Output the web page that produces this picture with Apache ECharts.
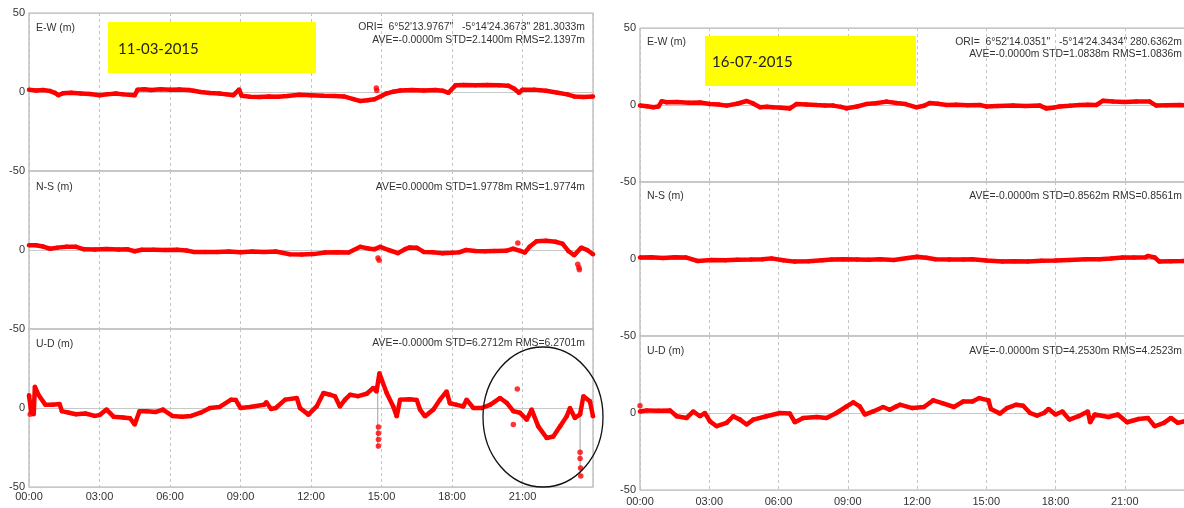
<!DOCTYPE html>
<html><head><meta charset="utf-8">
<script src="https://cdn.jsdelivr.net/npm/echarts@6/dist/echarts.min.js"></script>
<style>html,body{margin:0;padding:0;background:#fff}#c{width:1184px;height:508px}</style>
</head><body><div id="c"></div><script>
// Time in hours since 00:00, offsets in metres.
const HOUR_TICKS = [0, 3, 6, 9, 12, 15, 18, 21, 24];
const COMPONENTS = ['E-W (m)', 'N-S (m)', 'U-D (m)'];
const DATES = ['11-03-2015', '16-07-2015'];

const ORI_1 = 'ORI=  6\u00b052\'13.9767"   -5\u00b014\'24.3673" 281.3033m';
const ORI_2 = 'ORI=  6\u00b052\'14.0351"   -5\u00b014\'24.3434" 280.6362m';
const STATS_1 = ['AVE=-0.0000m STD=2.1400m RMS=2.1397m', 'AVE=0.0000m STD=1.9778m RMS=1.9774m', 'AVE=-0.0000m STD=6.2712m RMS=6.2701m'];
const STATS_2 = ['AVE=-0.0000m STD=1.0838m RMS=1.0836m', 'AVE=-0.0000m STD=0.8562m RMS=0.8561m', 'AVE=-0.0000m STD=4.2530m RMS=4.2523m'];

// Day 1 (11-03-2015)
const EW_1 = [[0,1.5],[0.3,1.0],[0.6,1.2],[0.9,0.6],[1.1,-0.5],[1.25,-2.0],[1.45,-0.8],[1.8,-0.5],[2.2,-0.9],[2.6,-1.3],[3.0,-2.0],[3.3,-1.5],[3.7,-1.0],[4.0,-1.5],[4.5,-2.0],[4.62,1.5],[4.9,1.8],[5.2,1.3],[5.6,1.7],[6.0,1.5],[6.4,1.6],[6.8,1.2],[7.0,0.8],[7.3,0.0],[7.7,-0.6],[8.1,-1.0],[8.4,-1.5],[8.7,-2.0],[8.94,1.6],[9.05,-2.4],[9.4,-3.0],[9.8,-3.2],[10.2,-2.8],[10.6,-3.0],[11.0,-2.6],[11.5,-1.8],[12.0,-2.0],[12.5,-2.3],[13.0,-2.5],[13.4,-2.8],[13.8,-4.5],[14.1,-5.7],[14.4,-5.2],[14.7,-4.6],[15.0,-2.5],[15.2,-1.0],[15.5,0.2],[15.8,1.0],[16.3,1.3],[16.8,1.0],[17.3,1.2],[17.6,0.8],[17.85,-0.5],[18.15,4.2],[18.5,4.5],[19.0,4.2],[19.5,4.5],[20.0,4.3],[20.4,4.0],[20.65,2.0],[20.85,-0.5],[21.0,1.5],[21.5,1.5],[22.0,0.8],[22.5,-0.5],[22.9,-1.5],[23.2,-2.8],[23.6,-3.2],[24,-2.8]];
const EW_1_OUT = [[14.78,2.5],[14.8,1.0]];
const NS_1 = [[0,3.0],[0.3,3.0],[0.6,2.2],[0.9,0.8],[1.2,1.5],[1.6,2.0],[2.0,2.0],[2.35,0.4],[2.8,0.3],[3.3,0.6],[3.8,0.3],[4.2,0.4],[4.5,-0.8],[4.8,0.2],[5.3,0.2],[5.8,0.0],[6.3,0.2],[6.7,-0.3],[7.0,-1.2],[7.5,-1.3],[8.0,-1.2],[8.5,-1.0],[9.0,-1.4],[9.5,-1.0],[10.0,-1.3],[10.5,-1.0],[11.1,-2.7],[11.6,-2.8],[12.1,-2.6],[12.6,-1.6],[13.1,-1.4],[13.6,-1.6],[14.1,2.0],[14.5,0.8],[14.7,0.5],[14.95,2.0],[15.3,0.0],[15.7,-2.0],[16.0,0.5],[16.2,1.6],[16.5,1.4],[16.8,-1.2],[17.2,-1.5],[17.6,-2.0],[18.0,-1.8],[18.3,-1.5],[18.6,0.0],[19.0,-0.6],[19.4,-0.8],[19.8,-0.6],[20.3,-0.5],[20.6,0.8],[20.9,-0.5],[21.1,-1.6],[21.3,2.0],[21.6,5.5],[22.0,5.8],[22.4,5.2],[22.7,4.0],[22.95,-0.6],[23.2,-3.3],[23.5,1.5],[23.75,0.0],[24,-2.7]];
const NS_1_OUT = [[14.85,-5.0],[14.9,-6.5],[20.8,4.5],[23.35,-9],[23.4,-11],[23.42,-12.5]];
const UD_1 = [[0,8.0],[0.1,-3.0],[0.2,-4.0],[0.25,13.5],[0.4,8.4],[0.7,2.0],[1.0,2.0],[1.3,2.5],[1.4,-2.0],[1.7,-3.0],[2.0,-4.0],[2.4,-3.5],[2.8,-5.0],[3.0,-4.5],[3.3,-1.0],[3.6,-5.5],[4.0,-6.0],[4.3,-6.5],[4.5,-10.5],[4.7,-2.0],[5.0,-2.0],[5.4,-2.5],[5.7,-1.0],[6.1,-5.0],[6.5,-5.5],[6.9,-5.0],[7.3,-3.0],[7.7,0.0],[8.1,0.6],[8.6,5.3],[8.8,5.0],[9.0,0.0],[9.4,0.6],[10.0,2.0],[10.1,3.6],[10.3,-0.6],[10.5,0.0],[10.9,5.3],[11.4,6.3],[11.53,0.0],[11.89,-4.2],[12.24,1.0],[12.53,9.5],[12.81,8.4],[13.02,7.4],[13.23,1.0],[13.45,5.3],[13.66,8.4],[14.0,7.5],[14.37,9.0],[14.65,12.7],[14.79,10.5],[14.91,22.0],[15.22,9.5],[15.5,1.0],[15.65,-5.3],[15.79,5.3],[16.2,5.5],[16.5,5.0],[16.64,-1.0],[16.85,-5.3],[17.21,-1.0],[17.49,5.3],[17.77,10.5],[17.91,3.0],[18.2,2.0],[18.48,1.0],[18.62,5.3],[18.91,0.0],[19.26,0.0],[19.62,2.0],[20.04,6.3],[20.33,3.2],[20.61,-2.0],[20.89,-3.0],[21.18,-7.4],[21.39,-1.0],[21.67,-11.6],[22.03,-19.0],[22.31,-18.0],[22.6,-11.6],[22.88,-5.3],[23.02,0.0],[23.23,-6.3],[23.45,-4.0],[23.59,7.4],[23.87,4.2],[24,-5.3]];
const UD_1_OUT = [[0.05,-4],[14.87,-12],[14.87,-16],[14.87,-20],[14.87,-24],[20.61,-10.5],[20.78,12],[23.45,-28],[23.45,-32],[23.47,-38],[23.48,-43]];
// vertical links between separated epochs: [hour, from, to]
const UD_1_LINKS = [[14.84, 12, -26], [23.45, -5, -43]];

// Day 2 (16-07-2015)
const EW_2 = [[0,-0.4],[0.3,-0.8],[0.58,-1.5],[0.8,-1.0],[0.94,2.5],[1.15,1.8],[1.6,2.0],[2.1,1.5],[2.6,1.6],[3.03,0.6],[3.4,0.3],[3.75,-0.4],[4.2,0.8],[4.62,2.6],[4.9,1.0],[5.2,-1.4],[5.5,-1.2],[5.77,-1.5],[6.1,-1.8],[6.49,-2.2],[6.78,0.6],[7.2,0.4],[7.65,0.0],[8.0,-0.3],[8.37,-0.4],[8.7,-1.2],[8.95,-2.2],[9.4,-1.0],[9.8,0.6],[10.2,1.2],[10.68,2.2],[11.11,1.3],[11.5,0.6],[11.98,-1.5],[12.3,-0.5],[12.55,1.3],[12.9,0.8],[13.28,0.0],[13.7,0.2],[14.2,-0.2],[14.72,0.0],[15.0,-0.9],[15.5,-0.6],[16.16,-0.4],[16.7,-0.6],[17.32,-0.4],[17.6,-2.2],[17.9,-1.8],[18.18,-0.9],[18.6,-0.5],[19.05,0.0],[19.4,0.2],[19.77,0.0],[20.06,2.8],[20.49,2.2],[21.0,2.0],[21.5,2.3],[22.08,2.2],[22.37,-0.4],[22.8,-0.2],[23.38,0.0],[23.7,-0.3],[24,0.0]];
const NS_2 = [[0,1.0],[0.5,1.2],[1.0,0.6],[1.5,1.2],[1.98,1.0],[2.5,-1.3],[3.1,-0.6],[3.7,-0.8],[4.2,-0.5],[4.8,-0.4],[5.3,-0.2],[5.7,0.4],[6.2,-0.8],[6.7,-1.7],[7.3,-1.5],[7.9,-0.8],[8.3,-0.4],[8.8,-0.2],[9.4,-0.3],[9.9,-0.5],[10.4,-0.2],[11.0,-0.6],[11.6,0.6],[12.0,1.5],[12.4,0.8],[12.8,-0.2],[13.4,-0.3],[14.0,-0.4],[14.4,-0.2],[15.0,-0.9],[15.7,-1.7],[16.2,-1.4],[16.8,-1.7],[17.4,-1.2],[18.0,-1.0],[18.6,-0.6],[19.3,-0.2],[19.9,-0.1],[20.4,0.4],[20.9,1.0],[21.4,1.0],[21.9,1.2],[22.0,2.0],[22.3,1.0],[22.5,-1.7],[23.0,-1.4],[23.5,-1.3],[24,-1.0]];
const UD_2 = [[0,1.0],[0.29,1.7],[0.8,1.5],[1.3,1.7],[1.59,-2.1],[2.02,-3.2],[2.31,1.0],[2.6,-2.1],[2.81,0.0],[3.03,-5.4],[3.32,-8.6],[3.75,-6.4],[4.04,-2.1],[4.33,-4.3],[4.62,-7.5],[4.91,-4.3],[5.48,-2.1],[6.06,0.0],[6.49,-0.4],[6.71,-6.0],[7.07,-3.2],[7.65,-2.6],[8.08,-3.2],[8.51,0.0],[8.95,4.3],[9.24,6.9],[9.52,4.3],[9.74,-1.0],[10.1,1.0],[10.53,3.9],[10.82,2.1],[11.11,4.3],[11.26,5.4],[11.8,3.2],[12.3,3.9],[12.7,8.2],[13.1,6.4],[13.6,3.9],[14.0,7.5],[14.4,7.5],[14.7,9.7],[15.1,8.2],[15.2,2.6],[15.6,-0.4],[15.9,3.2],[16.3,5.4],[16.6,4.7],[16.9,0.0],[17.2,-1.7],[17.5,0.0],[17.7,2.6],[18.0,-1.0],[18.3,1.0],[18.6,-4.3],[19.0,-2.1],[19.4,1.0],[19.5,-6.0],[19.7,-1.0],[20.3,-2.6],[20.7,-1.0],[21.1,-6.0],[21.6,-3.9],[22.0,-3.2],[22.3,-8.6],[22.7,-6.4],[23.0,-3.2],[23.3,-6.4],[23.7,-5.0],[24,-4.5]];
const UD_2_OUT = [[0,4.7]];

const RED = '#ff0000';
const FONT = '"Liberation Sans", Arial, sans-serif';

// panel placement: [left, width, top, subplot height]
const PANELS = [
  { left: 29, width: 564, top: 13, h: 158 },
  { left: 640, width: 554, top: 28, h: 154 }
];

const grids = [], xAxes = [], yAxes = [], series = [];
const lines = [[EW_1, NS_1, UD_1], [EW_2, NS_2, UD_2]];
const outs = [[EW_1_OUT, NS_1_OUT, UD_1_OUT], [[], [], UD_2_OUT]];

PANELS.forEach((p, pi) => {
  for (let k = 0; k < 3; k++) {
    const idx = pi * 3 + k;
    const bottom = k === 2;
    grids.push({ left: p.left, width: p.width, top: p.top + k * p.h, height: p.h,
      show: true, borderColor: '#b4b4b4', borderWidth: 1.2,
      containLabel: false, outerBoundsMode: 'none' });
    xAxes.push({
      type: 'value', gridIndex: idx, min: 0, max: 24, interval: 3,
      axisLine: { show: false }, axisTick: { show: false },
      splitLine: { show: true, lineStyle: { color: '#c4c4c4', type: [3, 3], width: 1 } },
      axisLabel: { show: bottom, margin: pi === 0 ? 4 : 6, color: '#333', fontSize: 11, fontFamily: FONT,
        formatter: v => v === 24 ? '' : String(v).padStart(2, '0') + ':00' }
    });
    yAxes.push({
      type: 'value', gridIndex: idx, min: -50, max: 50, interval: 50,
      axisLine: { show: false }, axisTick: { show: false },
      splitLine: { show: true, lineStyle: { color: '#c8c8c8', width: 1 } },
      axisLabel: { margin: 4, color: '#333', fontSize: 11, fontFamily: FONT,
        showMinLabel: true, showMaxLabel: true,
        formatter: v => (k > 0 && v === 50) ? '' : String(v) }
    });
    series.push({
      type: 'line', xAxisIndex: idx, yAxisIndex: idx, data: lines[pi][k],
      showSymbol: true, symbol: 'circle', symbolSize: 4.5, itemStyle: { color: RED },
      lineStyle: { color: RED, width: 4.5 }, silent: true, animation: false, z: 3
    });
    if (outs[pi][k].length) {
      series.push({
        type: 'scatter', xAxisIndex: idx, yAxisIndex: idx, data: outs[pi][k],
        symbolSize: 5.5, itemStyle: { color: RED }, silent: true, animation: false, z: 4
      });
    }
  }
});

// thin gray connectors in the day-1 U-D plot
UD_1_LINKS.forEach(l => {
  series.push({
    type: 'line', xAxisIndex: 2, yAxisIndex: 2, data: [[l[0], l[1]], [l[0], l[2]]],
    showSymbol: false, lineStyle: { color: '#a0a0a0', width: 1 }, silent: true, animation: false, z: 2
  });
});

function txt(x, y, text, align, size, family, color) {
  return { type: 'text', x, y, silent: true, z: 10,
    style: { text, fill: color || '#333', fontSize: size || 10.4, fontFamily: family || FONT,
      align: align || 'left', verticalAlign: 'middle' } };
}

const graphic = [
  // date boxes
  { type: 'rect', shape: { x: 108, y: 22, width: 208, height: 51 }, style: { fill: '#ffff00' }, z: 5, silent: true },
  txt(118, 49, DATES[0], 'left', 15, 'Lato, "Open Sans", sans-serif', '#222'),
  { type: 'rect', shape: { x: 705, y: 36, width: 211, height: 50 }, style: { fill: '#ffff00' }, z: 5, silent: true },
  txt(712, 62, DATES[1], 'left', 15, 'Lato, "Open Sans", sans-serif', '#222'),
  // component labels
  txt(36, 28, COMPONENTS[0], 'left', 10.5), txt(36, 187, COMPONENTS[1], 'left', 10.5), txt(36, 344, COMPONENTS[2], 'left', 10.5),
  txt(647, 42, COMPONENTS[0], 'left', 10.5), txt(647, 196, COMPONENTS[1], 'left', 10.5), txt(647, 351, COMPONENTS[2], 'left', 10.5),
  // statistics
  txt(585, 27, ORI_1, 'right'), txt(585, 40, STATS_1[0], 'right'),
  txt(585, 187, STATS_1[1], 'right'), txt(585, 343, STATS_1[2], 'right'),
  txt(1182, 42, ORI_2, 'right'), txt(1182, 54, STATS_2[0], 'right'),
  txt(1182, 196, STATS_2[1], 'right'), txt(1182, 351, STATS_2[2], 'right'),
  // highlight ring around the late-evening U-D excursion
  { type: 'ellipse', shape: { cx: 543, cy: 417, rx: 60, ry: 70 }, style: { fill: 'none', stroke: '#111', lineWidth: 1.3 }, z: 8, silent: true }
];

const chart = echarts.init(document.getElementById('c'), null, { renderer: 'canvas' });
chart.setOption({
  animation: false, backgroundColor: '#fff',
  grid: grids, xAxis: xAxes, yAxis: yAxes, series, graphic
});
</script></body></html>
